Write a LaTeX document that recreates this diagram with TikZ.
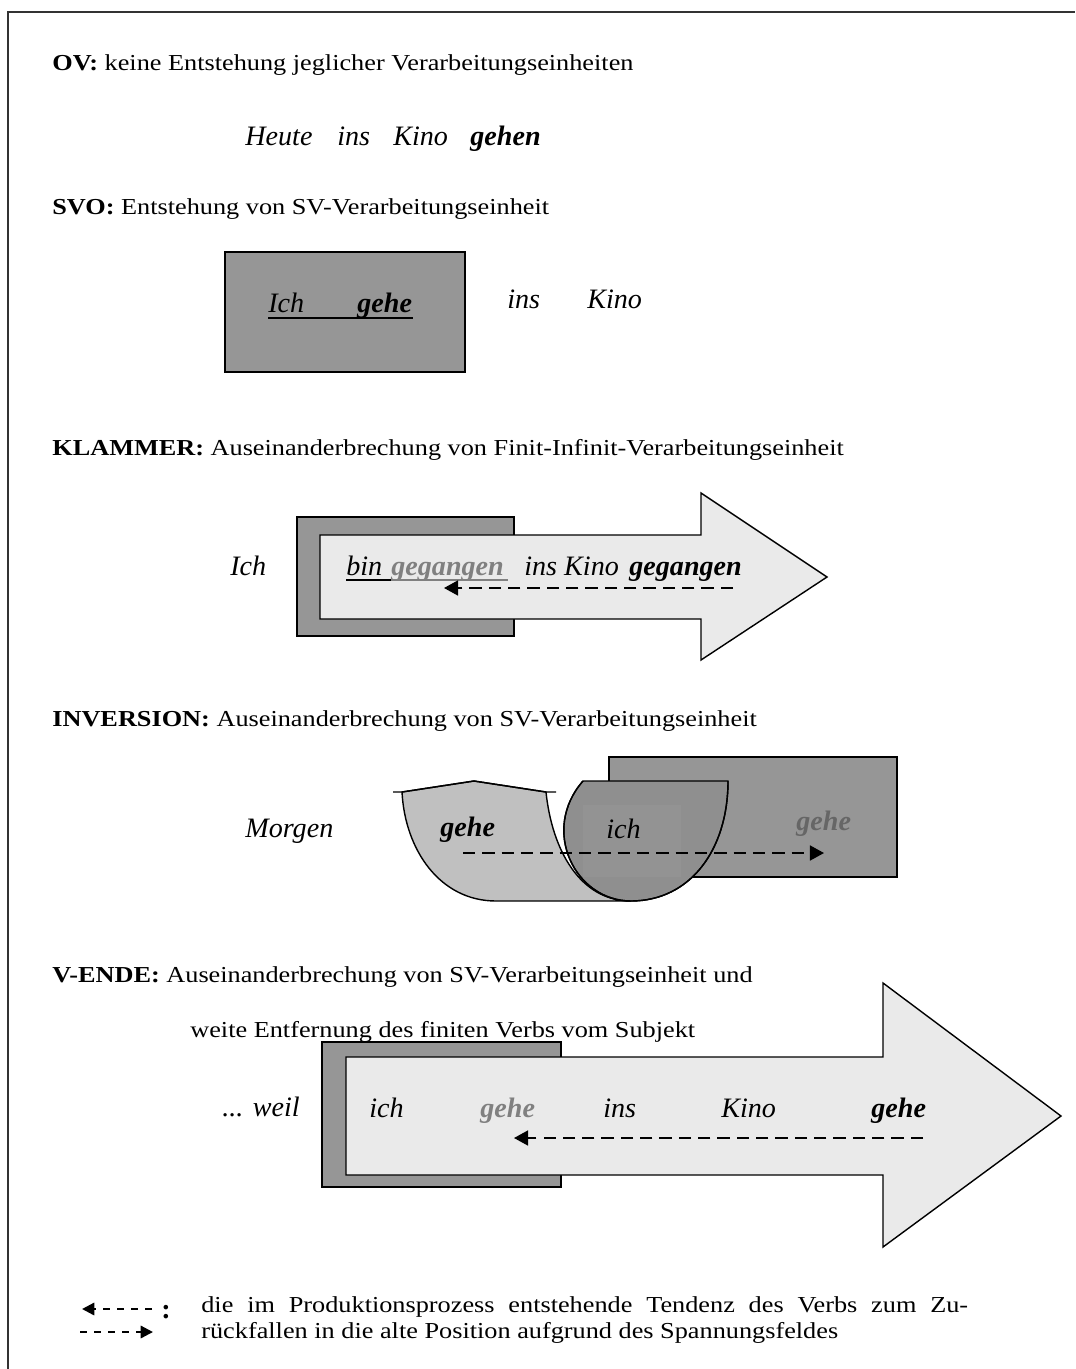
\documentclass[tikz,border=0pt]{standalone}
\usepackage{fontspec}
\setmainfont{Liberation Serif}
\newfontfamily\headserif[FakeStretch=1.15]{Liberation Serif}
\usetikzlibrary{arrows.meta}

\definecolor{boxgray}{RGB}{150,150,150}
\definecolor{shaftgray}{RGB}{234,234,234}
\definecolor{bowlgray}{RGB}{192,192,192}
\definecolor{cupgray}{RGB}{143,143,143}
\definecolor{lidgray}{RGB}{153,153,153}
\definecolor{wordgray}{RGB}{128,128,128}
\definecolor{darkword}{RGB}{102,102,102}

\begin{document}
\begin{tikzpicture}[x=0.02cm, y=0.02cm,
  head/.style={anchor=base west, font=\headserif\fontsize{13}{15}\selectfont},
  word/.style={anchor=base west, font=\fontsize{16}{18}\selectfont\itshape},
  graybox/.style={draw=black, line width=1pt, fill=boxgray},
  flow/.style={draw=black, line width=0.8pt, fill=shaftgray},
  pull/.style={line width=1.1pt, dash pattern=on 7pt off 4pt, -{Triangle[length=8pt,width=8.5pt]}},
  keyarrow/.style={line width=1.3pt, dash pattern=on 4pt off 4pt, -{Triangle[length=7pt,width=7pt]}},
  rule/.style={line width=0.9pt}]
\tikzstyle{every node}+=[inner sep=0pt]
\useasboundingbox (0,0) rectangle (1075,-1369);
\draw [black!80, line width=0.6pt] (8,-1369) -- (8,-12) -- (1075,-12);

% OV
\node [head] (ovtitle) at (52,-70) {\textbf{OV:} keine Entstehung jeglicher Verarbeitungseinheiten};
\node [word] (ovheute) at (245,-145) {Heute};
\node [word] (ovins) at (337,-145) {ins};
\node [word] (ovkino) at (393,-145) {Kino};
\node [word] (ovgehen) at (470,-145) {\textbf{gehen}};

% SVO
\node [head] (svotitle) at (52,-214) {\textbf{SVO:} Entstehung von SV-Verarbeitungseinheit};
\draw [graybox] (225,-252) rectangle (465,-372);
\node [word] (svoich) at (268,-312) {Ich};
\node [word] (svogehe) at (357,-312) {\textbf{gehe}};
\draw [rule] (268,-318) -- (413,-318);
\node [word] (svoins) at (507,-308) {ins};
\node [word] (svokino) at (587,-308) {Kino};

% KLAMMER
\node [head] (kltitle) at (52,-455) {\textbf{KLAMMER:} Auseinanderbrechung von Finit-Infinit-Verarbeitungseinheit};
\draw [graybox] (297,-517) rectangle (514,-636);
\draw [flow] (320,-535) -- (701,-535) -- (701,-493) -- (827,-577) -- (701,-660) -- (701,-619) -- (320,-619) -- cycle;
\node [word] (klich) at (230,-575) {Ich};
\node [word] (klbin) at (346,-575) {bin};
\node [word, text=wordgray] (klpart) at (391,-575) {\textbf{gegangen}};
\node [word] (klinskino) at (524,-575) {ins Kino};
\node [word] (klgegangen) at (629,-575) {\textbf{gegangen}};
\draw [rule] (346,-580) -- (391,-580);
\draw [rule, wordgray] (391,-580) -- (508,-580);
\coordinate (klfrom) at (733,-588);
\coordinate (klto) at (444,-588);
\draw [pull] (klfrom) -- (klto);

% INVERSION
\node [head] (invtitle) at (52,-726) {\textbf{INVERSION:} Auseinanderbrechung von SV-Verarbeitungseinheit};
\draw [graybox] (609,-757) rectangle (897,-877);
\draw [black, line width=0.8pt, fill=bowlgray] (402,-792) -- (474,-781) -- (546,-792)
  .. controls (552,-850) and (580,-901) .. (631,-901) -- (496,-901)
  .. controls (440,-901) and (405,-850) .. (402,-792) -- cycle;
\draw [black, line width=0.8pt] (393,-792) -- (402,-792) -- (474,-781) -- (546,-792) -- (556,-792);
\draw [black, line width=0.8pt, fill=cupgray] (583,-781)
  .. controls (540,-830) and (575,-901) .. (631,-901)
  .. controls (690,-901) and (728,-850) .. (728,-781) -- cycle;
\fill [lidgray, opacity=0.4] (583,-805) rectangle (681,-877);
\draw [black, line width=0.8pt] (583,-781)
  .. controls (540,-830) and (575,-901) .. (631,-901)
  .. controls (690,-901) and (728,-850) .. (728,-781);
\node [word] (invmorgen) at (245,-837) {Morgen};
\node [word] (invgehe) at (440,-836) {\textbf{gehe}};
\node [word] (invich) at (606,-838) {ich};
\node [word, text=darkword] (invold) at (796,-830) {\textbf{gehe}};
\coordinate (invfrom) at (463,-853);
\coordinate (invto) at (824,-853);
\draw [pull] (invfrom) -- (invto);

% V-ENDE
\node [head] (vetitle) at (52,-982) {\textbf{V-ENDE:} Auseinanderbrechung von SV-Verarbeitungseinheit und};
\node [head] (vetitletwo) at (190,-1037) {weite Entfernung des finiten Verbs vom Subjekt};
\draw [graybox] (322,-1042) rectangle (561,-1187);
\draw [flow] (346,-1057) -- (883,-1057) -- (883,-983) -- (1061,-1116) -- (883,-1247) -- (883,-1175) -- (346,-1175) -- cycle;
\node [word] (veweil) at (222,-1116) {... weil};
\node [word] (veich) at (369,-1117) {ich};
\node [word, text=wordgray] (vepart) at (480,-1117) {\textbf{gehe}};
\node [word] (veins) at (603,-1117) {ins};
\node [word] (vekino) at (721,-1117) {Kino};
\node [word] (vegehe) at (871,-1117) {\textbf{gehe}};
\coordinate (vefrom) at (923,-1138);
\coordinate (veto) at (514,-1138);
\draw [pull] (vefrom) -- (veto);

% legend
\coordinate (keyback) at (152,-1309);
\coordinate (keybacktip) at (82,-1309);
\coordinate (keyfwd) at (80,-1332);
\coordinate (keyfwdtip) at (153,-1332);
\draw [keyarrow] (keyback) -- (keybacktip);
\draw [keyarrow] (keyfwd) -- (keyfwdtip);
\node [anchor=base west, font=\fontsize{16}{18}\selectfont\bfseries] (keycolon) at (161,-1318) {:};
\node [head] (keyline) at (201,-1312)
  {\makebox[15.34cm][s]{die im Produktionsprozess entstehende Tendenz des Verbs zum Zu-}};
\node [head] (keylinetwo) at (201,-1338) {rückfallen in die alte Position aufgrund des Spannungsfeldes};
\end{tikzpicture}
\end{document}
